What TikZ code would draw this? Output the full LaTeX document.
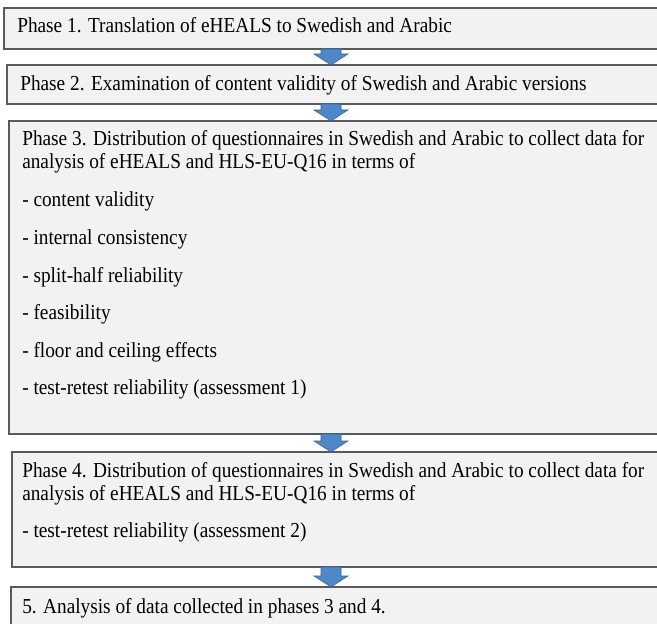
\documentclass[tikz,border=0pt]{standalone}
\usepackage{fontspec}
\setmainfont{Liberation Serif}[FakeStretch=0.905]
\usetikzlibrary{calc}
\definecolor{boxfill}{RGB}{242,242,242}
\definecolor{boxline}{RGB}{90,90,90}
\definecolor{arrowfill}{RGB}{79,135,200}
\definecolor{arrowline}{RGB}{60,100,150}
\newcommand\flowarrow[2]{%
  \path[blockarrow] ($(#1)+(-10,0)$) -- ($(#1)+(10,0)$) -- ($(#2)+(10,-11)$) -- ($(#2)+(17,-11)$) -- (#2)
    -- ($(#2)+(-17,-11)$) -- ($(#2)+(-10,-11)$) -- cycle;}
\begin{document}
\begin{tikzpicture}[x=0.75pt,y=-0.75pt,
  box/.style={draw=boxline, fill=boxfill, line width=1.1pt, rectangle, anchor=north west,
    minimum width={700*0.75pt}, inner sep=0pt, outer sep=0pt},
  txt/.style={anchor=base west, inner sep=0pt, font=\fontsize{16}{19}\selectfont},
  blockarrow/.style={fill=arrowfill, draw=arrowline, line width=0.4pt}]
\useasboundingbox (0,0) rectangle (657,624);
\clip (0,0) rectangle (657,624);
\fill[white] (0,0) rectangle (657,624);
\coordinate (ax) at (331,0);
% boxes
\node[box, minimum height={41*0.75pt}] (p1) at (4,8) {};
\node[box, minimum height={39*0.75pt}] (p2) at (7,65) {};
\node[box, minimum height={313*0.75pt}] (p3) at (9,121) {};
\node[box, minimum height={115*0.75pt}] (p4) at (12,452) {};
\node[box, minimum height={60*0.75pt}] (p5) at (11,587) {};
% arrows
\coordinate (a1t) at (ax |- p1.south); \coordinate (a1b) at (ax |- p2.north);
\coordinate (a2t) at (ax |- p2.south); \coordinate (a2b) at (ax |- p3.north);
\coordinate (a3t) at (ax |- p3.south); \coordinate (a3b) at (ax |- p4.north);
\coordinate (a4t) at (ax |- p4.south); \coordinate (a4b) at (ax |- p5.north);
\flowarrow{a1t}{a1b}
\flowarrow{a2t}{a2b}
\flowarrow{a3t}{a3b}
\flowarrow{a4t}{a4b}
% texts
\node[txt] (t1) at (17,33) {Phase 1. Translation of eHEALS to Swedish and Arabic};
\node[txt] (t2) at (20,90.5) {Phase 2. Examination of content validity of Swedish and Arabic versions};
\node[txt] (t3a) at (22,146) {Phase 3. Distribution of questionnaires in Swedish and Arabic to collect data for};
\node[txt] (t3b) at (22,169) {analysis of eHEALS and HLS-EU-Q16 in terms of};
\node[txt] (t3c) at (22,207) {- content validity};
\node[txt] (t3d) at (22,244.6) {- internal consistency};
\node[txt] (t3e) at (22,282) {- split-half reliability};
\node[txt] (t3f) at (22,319.6) {- feasibility};
\node[txt] (t3g) at (22,357) {- floor and ceiling effects};
\node[txt] (t3h) at (22,394.6) {- test-retest reliability (assessment 1)};
\node[txt] (t4a) at (22,477) {Phase 4. Distribution of questionnaires in Swedish and Arabic to collect data for};
\node[txt] (t4b) at (22,500) {analysis of eHEALS and HLS-EU-Q16 in terms of};
\node[txt] (t4c) at (22,537) {- test-retest reliability (assessment 2)};
\node[txt] (t5) at (22,613) {5. Analysis of data collected in phases 3 and 4.};
\end{tikzpicture}
\end{document}
